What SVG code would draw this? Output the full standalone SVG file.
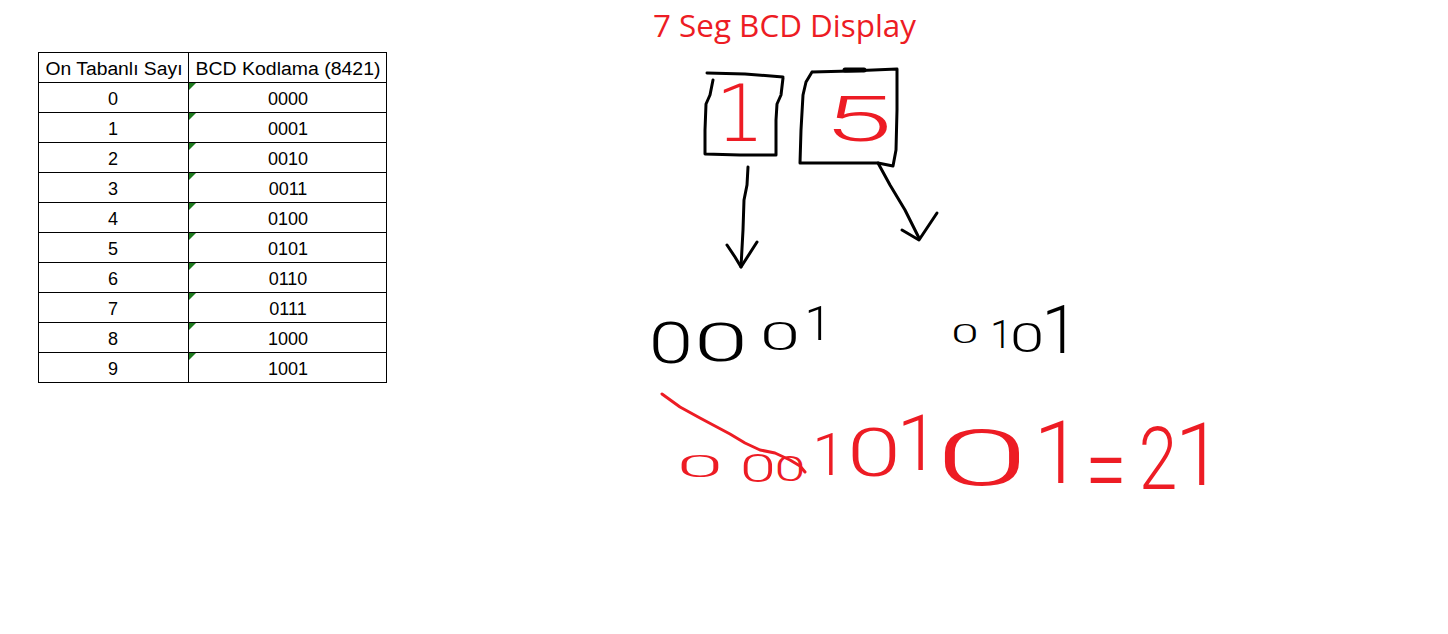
<svg xmlns="http://www.w3.org/2000/svg" width="1448" height="634" viewBox="0 0 1448 634">
<style>
.cell{fill:#fff;stroke:#000;stroke-width:1}
.tt{font-family:"Liberation Sans",Arial,sans-serif;font-size:18px;fill:#000;text-anchor:middle}
.flag{fill:#1e7a1e}
.title{font-family:"Open Sans","Noto Sans",sans-serif;font-size:31px;fill:#ED1C24}
.ink{fill:none;stroke:#000;stroke-width:3;stroke-linecap:round;stroke-linejoin:round}
.rink{fill:none;stroke:#ED1C24;stroke-width:3;stroke-linecap:round;stroke-linejoin:round}
.hb{font-family:Roboto,"DejaVu Sans",sans-serif;font-weight:300;fill:#000;text-anchor:middle}
.hr{font-family:Roboto,"DejaVu Sans",sans-serif;font-weight:300;fill:#ED1C24;text-anchor:middle}
.hd{font-family:"DejaVu Sans",sans-serif;font-weight:200;fill:#ED1C24;text-anchor:middle}
</style>
<rect width="1448" height="634" fill="#fff"/>

<g id="table">
<rect class="cell" x="38.5" y="52.5" width="348" height="330"/>
<line x1="188.5" y1="52.5" x2="188.5" y2="382.5" stroke="#000"/>
<g stroke="#000" stroke-width="1">
<line x1="38.5" y1="82.5" x2="386.5" y2="82.5"/>
<line x1="38.5" y1="112.5" x2="386.5" y2="112.5"/>
<line x1="38.5" y1="142.5" x2="386.5" y2="142.5"/>
<line x1="38.5" y1="172.5" x2="386.5" y2="172.5"/>
<line x1="38.5" y1="202.5" x2="386.5" y2="202.5"/>
<line x1="38.5" y1="232.5" x2="386.5" y2="232.5"/>
<line x1="38.5" y1="262.5" x2="386.5" y2="262.5"/>
<line x1="38.5" y1="292.5" x2="386.5" y2="292.5"/>
<line x1="38.5" y1="322.5" x2="386.5" y2="322.5"/>
<line x1="38.5" y1="352.5" x2="386.5" y2="352.5"/>
</g>
<g class="flag">
<polygon points="189,83 196,83 189,90"/>
<polygon points="189,113 196,113 189,120"/>
<polygon points="189,143 196,143 189,150"/>
<polygon points="189,173 196,173 189,180"/>
<polygon points="189,203 196,203 189,210"/>
<polygon points="189,233 196,233 189,240"/>
<polygon points="189,263 196,263 189,270"/>
<polygon points="189,293 196,293 189,300"/>
<polygon points="189,323 196,323 189,330"/>
<polygon points="189,353 196,353 189,360"/>
</g>
<text class="tt" x="114" y="75" textLength="137" lengthAdjust="spacingAndGlyphs">On Tabanlı Sayı</text>
<text class="tt" x="288" y="75" textLength="185" lengthAdjust="spacingAndGlyphs">BCD Kodlama (8421)</text>
<text class="tt" x="113" y="105">0</text><text class="tt" x="288" y="105">0000</text>
<text class="tt" x="113" y="135">1</text><text class="tt" x="288" y="135">0001</text>
<text class="tt" x="113" y="165">2</text><text class="tt" x="288" y="165">0010</text>
<text class="tt" x="113" y="195">3</text><text class="tt" x="288" y="195">0011</text>
<text class="tt" x="113" y="225">4</text><text class="tt" x="288" y="225">0100</text>
<text class="tt" x="113" y="255">5</text><text class="tt" x="288" y="255">0101</text>
<text class="tt" x="113" y="285">6</text><text class="tt" x="288" y="285">0110</text>
<text class="tt" x="113" y="315">7</text><text class="tt" x="288" y="315">0111</text>
<text class="tt" x="113" y="345">8</text><text class="tt" x="288" y="345">1000</text>
<text class="tt" x="113" y="375">9</text><text class="tt" x="288" y="375">1001</text>
</g>

<g id="title">
<text class="title" x="653" y="37" textLength="263" lengthAdjust="spacingAndGlyphs">7 Seg BCD Display</text>
</g>

<g id="digit-box-1">
<path class="ink" d="M707,73 L745,74 L783,77 M713,80 L710,95 L706,104 L705,130 L705,154 L740,155 L776,155 L776,120 L777,104 L781,95 L783,78"/>
<text class="hd" x="740" y="141" font-size="78">1</text>
</g>

<g id="digit-box-2">
<path class="ink" d="M812,72 L850,71 L897,69 L897,110 L896,150 L893,166 L878,163 L800,163 L801,130 L803,95 L806,82 L812,72"/>
<path d="M845,70 L864,70" stroke="#000" stroke-width="5" stroke-linecap="round"/>
<text class="hr" font-size="62" transform="translate(858,141) scale(2,1)">5</text>
</g>

<g id="connectors">
<path class="ink" d="M748,167 L747,185 L744,200 L743,230 L741,267"/>
<path class="ink" d="M727,245 L735,257 L741,267 L757,242"/>
<path class="ink" d="M878,163 L890,185 L905,210 L919,238"/>
<path class="ink" d="M902,230 L919,240 L937,213"/>
</g>

<g id="bcd-1">
<text class="hb" font-size="57" transform="translate(671,363) scale(1.4,1)">0</text>
<text class="hb" font-size="54" transform="translate(721,361) scale(1.8,1)">0</text>
<text class="hb" font-size="39" transform="translate(780,350) scale(1.85,1)">0</text>
<text class="hb" font-size="49" x="818" y="340">1</text>
</g>

<g id="bcd-5">
<text class="hb" font-size="26" transform="translate(965,343) scale(1.9,1)">0</text>
<text class="hb" font-size="39" x="1001" y="348">1</text>
<text class="hb" font-size="41" transform="translate(1027,352) scale(1.5,1)">0</text>
<text class="hb" font-size="67" x="1060" y="353">1</text>
</g>

<g id="result">
<path class="rink" d="M662,394 L680,407 L700,418 L715,426 L730,434 L745,443 L760,450 L775,453 L790,460 L800,466 L805,472"/>
<text class="hr" font-size="31" transform="translate(700,477) scale(2.7,1)">0</text>
<text class="hr" font-size="38" transform="translate(758,482) scale(1.7,1)">0</text>
<text class="hr" font-size="35" transform="translate(790,481) scale(1.6,1)">0</text>
<text class="hr" font-size="60" x="829" y="475">1</text>
<text class="hr" font-size="67" transform="translate(874,476) scale(1.45,1)">0</text>
<text class="hr" font-size="77" x="918" y="470">1</text>
<text class="hr" font-size="77" transform="translate(982,485) scale(2.2,1)">0</text>
<text class="hr" font-size="88" x="1058" y="483">1</text>
<text class="hr" font-size="50" transform="translate(1106,503) scale(1.5,2)">=</text>
<text class="hr" font-size="87" transform="translate(1158,489) scale(0.8,1)">2</text>
<text class="hr" font-size="87" x="1199" y="485">1</text>
</g>
</svg>
